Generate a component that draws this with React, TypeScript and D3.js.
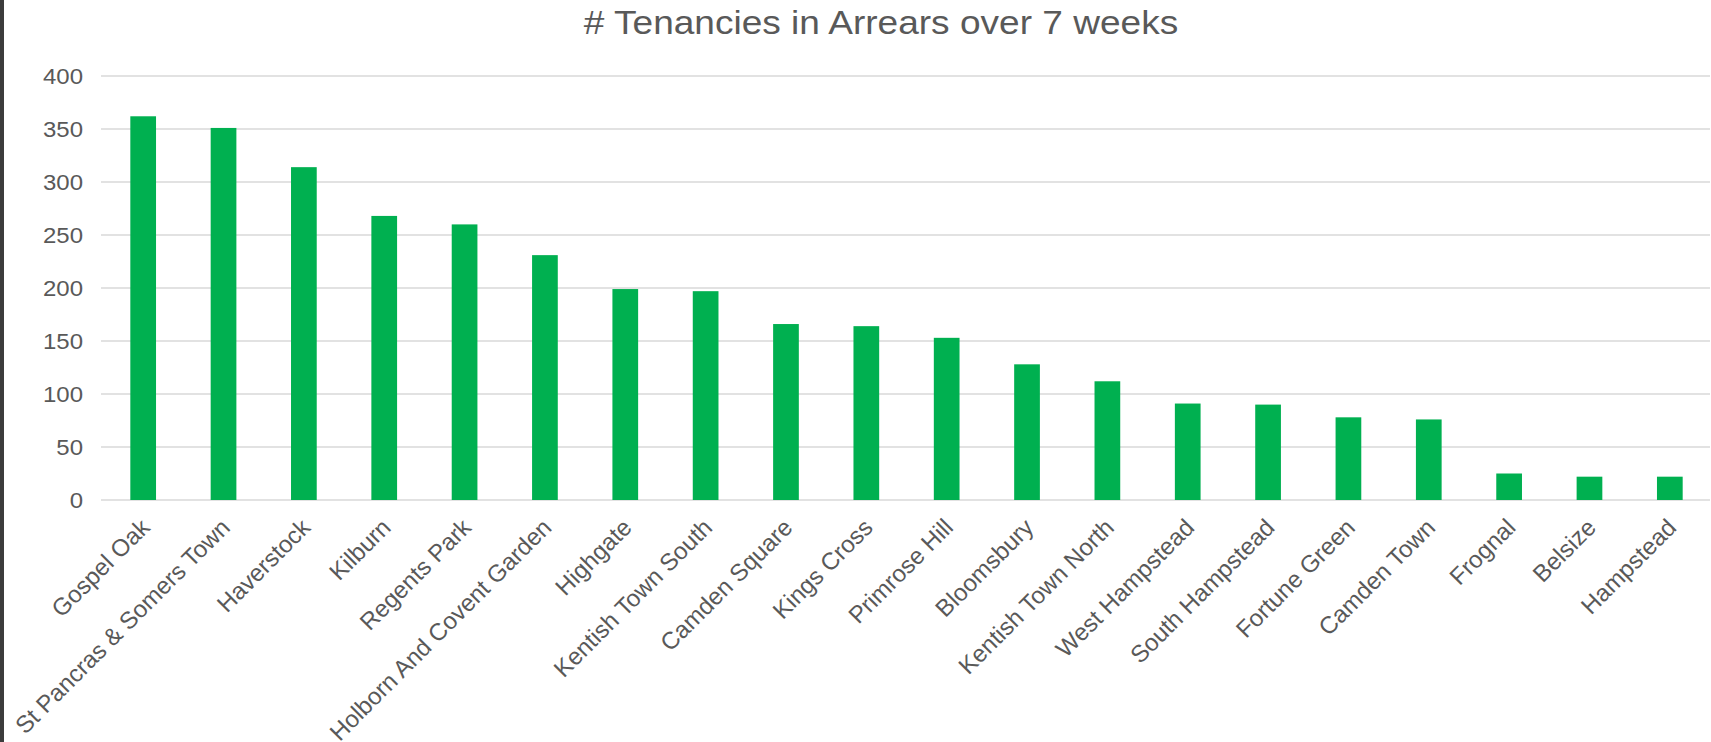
import * as d3 from 'd3'
import { useEffect, useRef } from 'react'

const wards = [
    'Gospel Oak', 'St Pancras & Somers Town', 'Haverstock', 'Kilburn', 'Regents Park',
    'Holborn And Covent Garden', 'Highgate', 'Kentish Town South', 'Camden Square', 'Kings Cross',
    'Primrose Hill', 'Bloomsbury', 'Kentish Town North', 'West Hampstead', 'South Hampstead',
    'Fortune Green', 'Camden Town', 'Frognal', 'Belsize', 'Hampstead'
]
const tenancies = [362, 351, 314, 268, 260, 231, 199, 197, 166, 164, 153, 128, 112, 91, 90, 78, 76, 25, 22, 22]
const yTicks = [0, 50, 100, 150, 200, 250, 300, 350, 400]
const chartTitle = '# Tenancies in Arrears over 7 weeks'

const W = 1711
const H = 742
// the source picture is a little wider than tall for the title and y labels
const stretch = 1.09

export default function App() {
    const svgRef = useRef(null) as any

    useEffect(() => {
        const svg = d3.select(svgRef.current)
        svg.selectAll('*').remove()

        const left = 103
        const right = 1710
        const top = 76
        const bottom = 500

        const x = d3.scaleBand()
            .domain(wards)
            .range([left, right])
            .paddingInner(0.68)
            .paddingOuter(0.34)

        const y = d3.scaleLinear()
            .domain([0, 400])
            .range([bottom, top])

        svg.append('rect')
            .attr('width', W)
            .attr('height', H)
            .attr('fill', '#ffffff')

        // gridlines
        svg.append('g')
            .selectAll('line')
            .data(yTicks)
            .join('line')
            .attr('x1', left - 2)
            .attr('x2', right)
            .attr('y1', d => y(d))
            .attr('y2', d => y(d))
            .attr('stroke', '#d9d9d9')
            .attr('stroke-width', 1.6)

        // y labels
        svg.append('g')
            .selectAll('text')
            .data(yTicks)
            .join('text')
            .attr('transform', d => `translate(83,${y(d)}) scale(${stretch},1)`)
            .attr('dy', '0.35em')
            .attr('text-anchor', 'end')
            .attr('fill', '#595959')
            .style('font-size', '22px')
            .text(d => d)

        // bars
        svg.append('g')
            .selectAll('rect')
            .data(tenancies)
            .join('rect')
            .attr('x', (d, i) => x(wards[i]) as number)
            .attr('width', x.bandwidth())
            .attr('y', d => y(d))
            .attr('height', d => bottom - y(d))
            .attr('fill', '#00b050')

        // x labels, rotated
        svg.append('g')
            .selectAll('text')
            .data(wards)
            .join('text')
            .attr('transform', d => `translate(${(x(d) as number) + x.bandwidth() / 2 + 2},${bottom + 23}) rotate(-45)`)
            .attr('dy', '0.35em')
            .attr('text-anchor', 'end')
            .attr('fill', '#595959')
            .style('font-size', '24px')
            .text(d => d)

        svg.append('text')
            .attr('transform', `translate(881,34) scale(${stretch},1)`)
            .attr('text-anchor', 'middle')
            .attr('fill', '#595959')
            .style('font-size', '34px')
            .text(chartTitle)

        // dark strip on the left edge
        svg.append('rect')
            .attr('width', 4)
            .attr('height', H)
            .attr('fill', '#3c3c3c')
    }, [])

    return (
        <div style={{ position: 'absolute', left: 0, top: 0 }}>
            <svg ref={svgRef} width={W} height={H}
                style={{ display: 'block', fontFamily: '"Liberation Sans", Arial, sans-serif' }} />
        </div>
    )
}
